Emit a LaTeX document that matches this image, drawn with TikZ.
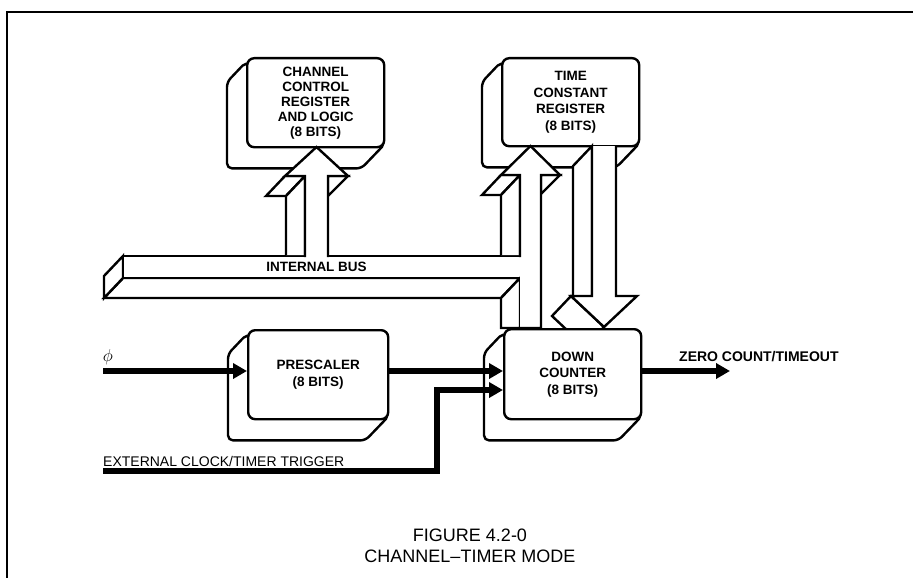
\documentclass[tikz,border=0pt]{standalone}
\usepackage{fontspec}
\setmainfont{Liberation Sans}
\usetikzlibrary{positioning,arrows.meta,calc,backgrounds}
\tikzset{
  reg/.style={draw, line width=2.4pt, rounded corners=7pt, fill=white, anchor=north west,
              align=center, inner sep=0pt, font=\fontsize{13.5}{16.5}\selectfont\bfseries},
  regback/.style={draw, line width=2.4pt, rounded corners=5pt, fill=white, line join=round},
  face/.style={draw, line width=2.4pt, fill=white, line join=miter},
  sig/.style={line width=5.5pt, -{Triangle[length=14pt,width=15pt]}},
  lbl/.style={font=\fontsize{14}{16}\selectfont\bfseries, inner sep=0pt, anchor=base west},
  buslbl/.style={font=\fontsize{13.5}{15}\selectfont\bfseries, inner sep=0pt},
  extlbl/.style={font=\fontsize{14}{16}\selectfont, inner sep=0pt, anchor=base west},
  figcap/.style={font=\fontsize{18}{20}\selectfont, inner sep=0pt, anchor=base}
}

\begin{document}
\begin{tikzpicture}[x=1pt, y=-1pt]
\useasboundingbox (0,0) rectangle (913,578);
\draw[line width=2pt] (7,578) -- (7,12) -- (913,12);

% registers
\node[reg, minimum width=137pt, minimum height=89pt, font=\fontsize{13.5}{15}\selectfont\bfseries] (ccr) at (246,57)
  {CHANNEL\\CONTROL\\REGISTER\\AND LOGIC\\(8 BITS)};
\node[reg, minimum width=137pt, minimum height=88pt] (tcr) at (501,57)
  {TIME\\CONSTANT\\REGISTER\\(8 BITS)};
\node[reg, minimum width=140pt, minimum height=89pt] (pre) at (247,329)
  {PRESCALER\\(8 BITS)};
\begin{scope}[on background layer]
\foreach \b in {ccr,tcr,pre}
  \draw[regback] (\b.center) -- ($(\b.north west)+(0,5)$) -- ++(-19,20)
    |- ($(\b.south east)+(-24,20)$) -- ($(\b.south east)+(0,-5)$) -- cycle;
\end{scope}

% internal bus
\path[face] (123,278) -- (520,278) -- (501,298) -- (104,298) -- cycle;
\path[face] (123,256) -- (123,278) -- (104,298) -- (104,276) -- cycle;
\path[face] (520,256) -- (123,256) -- (123,278) -- (520,278);
\node[buslbl] (bus) at (316.5,267) {INTERNAL BUS};

% bus to channel control register
\path[face] (285,176) -- (305,176) -- (286,196) -- (266,196) -- cycle;
\path[face] (328,176) -- (348,176) -- (328,196) -- cycle;
\path[face] (286,255) -- (286,196) -- (305,176) -- (305,255);
\path[face] (305,257) -- (305,176) -- (285,176) -- (316.5,147) -- (348,176) -- (328,176) -- (328,257);

% bus to time constant register
\path[face] (501,175) -- (520,175) -- (501,195) -- (482,195) -- cycle;
\path[face] (541,175) -- (560,175) -- (541,194) -- cycle;
\path[face] (501,255) -- (501,195) -- (520,175) -- (520,255);
\path[face] (520,278) -- (501,298) -- (501,328) -- (520,328) -- cycle;
\path[face] (520,257) -- (520,175) -- (501,175) -- (530.5,146) -- (560,175) -- (541,175) -- (541,328) -- (520,328);

% time constant register to down counter
\path[face] (592,146) -- (592,296) -- (573,316) -- (573,166) -- cycle;
\path[face] (571,296) -- (604,327) -- (585,347) -- (552,316) -- cycle;
\path[face] (592,146) -- (592,296) -- (571,296) -- (604,327) -- (637,296) -- (616,296) -- (616,146);

\node[reg, minimum width=137pt, minimum height=90pt] (dc) at (503,328)
  {DOWN\\COUNTER\\(8 BITS)};
\begin{scope}[on background layer]
  \draw[regback] (dc.center) -- ($(dc.north west)+(0,5)$) -- ++(-19,20)
    |- ($(dc.south east)+(-24,20)$) -- ($(dc.south east)+(0,-5)$) -- cycle;
\end{scope}

% signals
\coordinate (phi) at (103,371);
\coordinate (ext) at (103,471);
\coordinate (extup) at (437,390);
\coordinate (zero) at (730,371);
\node[font=\fontsize{16}{18}\selectfont] (philbl) at (108,357) {$\phi$};
\draw[sig] (phi) -- (phi -| pre.west);
\draw[sig] (phi -| pre.east) -- (phi -| dc.west);
\draw[sig] (ext) -| (extup) -- (extup -| dc.west);
\draw[sig] (zero -| dc.east) -- (zero);
\node[lbl] (zerolbl) at (679,361) {ZERO COUNT/TIMEOUT};
\node[extlbl] (extlbl) at (103,466) {EXTERNAL CLOCK/TIMER TRIGGER};

\node[figcap] (fig) at (470,541) {FIGURE 4.2-0};
\node[figcap] (mode) at (470,562) {CHANNEL--TIMER MODE};
\end{tikzpicture}
\end{document}
